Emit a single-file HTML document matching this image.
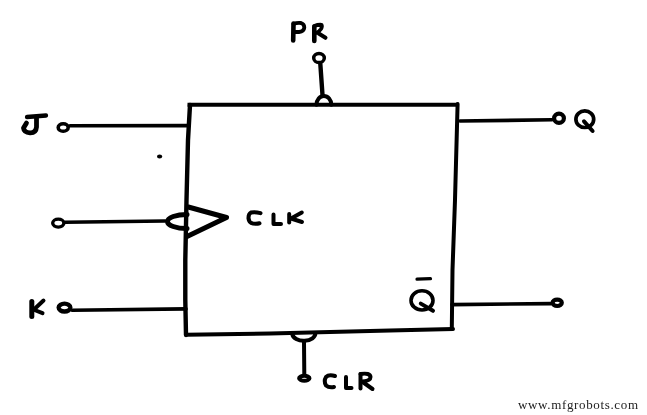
<!DOCTYPE html>
<html><head><meta charset="utf-8">
<style>
html,body{margin:0;padding:0;background:#fff;width:647px;height:415px;overflow:hidden}
svg{position:absolute;left:0;top:0}
.wm{position:absolute;left:518px;top:397px;font-family:"Liberation Serif",serif;font-size:13px;letter-spacing:0.65px;color:#222;white-space:nowrap;will-change:transform}
</style></head><body>
<svg width="647" height="415" viewBox="0 0 647 415" fill="none" stroke="#000" stroke-linecap="round" stroke-linejoin="round">
<!-- box -->
<g stroke-width="4">
<path d="M187.5 104.7 L459 104.7" stroke-linecap="butt"/>
<path d="M190 105 L188 140 L186.5 200 L185.3 260 L185.3 300 L186 335" stroke-width="4.4"/>
<path d="M186 334.8 L270 333.5 L390 330.6 L453 329"/>
<path d="M457.6 104 L455 200 L452.5 270 L451.8 329"/>
</g>
<!-- inputs -->
<g stroke-width="3.6">
<path d="M70 125.8 L188 125.6"/>
<ellipse cx="63.2" cy="127.5" rx="5" ry="3.8"/>
<path d="M65 222.2 L165 221"/>
<ellipse cx="58.3" cy="223.1" rx="5.6" ry="4.0" stroke-width="3.4"/>
<path d="M72 310.2 L186 308.9"/>
<ellipse cx="64.5" cy="307.6" rx="5.9" ry="3.9" stroke-width="4.3"/>
<path d="M460 121 L552 119.8"/>
<ellipse cx="559" cy="118.2" rx="4.9" ry="4.6" stroke-width="4.2"/>
<path d="M452 304.6 L551 303.6"/>
<ellipse cx="557.2" cy="302.8" rx="4.6" ry="3.2" stroke-width="4.2"/>
</g>
<!-- PR -->
<g stroke-width="4">
<ellipse cx="319" cy="58" rx="5.3" ry="4.6" stroke-width="3.5"/>
<path d="M320.3 63.7 L322.5 94.8" stroke-width="4.4"/>
<path d="M316.5 104.7 A7.4 8.8 0 0 1 331.3 104.7"/>
<!-- CLR -->
<path d="M292.3 334 A11.5 7.3 0 0 0 315.3 333"/>
<path d="M304 342 L304.3 374"/>
<ellipse cx="304.3" cy="378.3" rx="5.2" ry="2.5"/>
<!-- clock -->
<path d="M188.3 207 L226.5 217.5 L187 236.5" stroke-width="5"/>
<path d="M187 214.4 A19.5 7.1 0 0 0 187 228.6" stroke-width="5"/>
</g>
<!-- letters -->
<g stroke-width="4">
<!-- J -->
<path d="M27 117 L46 115.5" stroke-width="4.3"/>
<path d="M36.5 118 L36.5 127 Q36 133 30 132.8 Q24 132.5 23.5 128 L26.5 123" stroke-width="4.8"/>
<!-- K -->
<path d="M31.8 301.5 L31.8 316.5" stroke-width="5"/>
<path d="M43.5 300.5 L34.5 309" stroke-width="4"/>
<path d="M34.5 310 L42.5 313.2" stroke-width="4"/>
<!-- PR -->
<path d="M293.2 40.5 L293.5 23.5" stroke-width="4.6"/>
<path d="M293.5 24 Q297 22.5 301 23 Q304.3 24 304.3 27.5 Q304 31.5 299 32 L295 32" stroke-width="3.8"/>
<path d="M314.3 40.9 L314.3 26.6" stroke-width="4.6"/>
<path d="M314.3 26 Q318 24.5 321.5 24.8 Q322.5 26.5 321 29 Q319 32 316 33" stroke-width="3.8"/>
<path d="M318.7 33.5 L325.5 37.8" stroke-width="4"/>
<!-- Q -->
<ellipse cx="584.8" cy="119.2" rx="8.9" ry="8.3" stroke-width="3.7"/>
<path d="M584 121.3 L592.6 131" stroke-width="4"/>
<!-- CLK -->
<path d="M260.5 213.2 Q255 211.5 251 212.5 Q248.3 214 248.5 218.5 Q249 223 253 223.6 Q257 224 259.5 223.3" stroke-width="4"/>
<path d="M273.5 214.5 L273.5 224 L281 224"/>
<path d="M289.2 214 L289.2 222.5"/>
<path d="M301.8 212.5 L291 218.5 L302 222"/>
<!-- CLR -->
<path d="M335 376 Q329 374 326 377 Q323.5 381 326 385.5 Q329 388 334 387"/>
<path d="M346 377 L346 388 L351.5 388"/>
<path d="M360.5 374 L360.5 388.5"/>
<path d="M360.5 374 Q370 372.5 370.5 377 Q370.5 381 362 381.5 L372.5 389"/>
<!-- Qbar -->
<ellipse cx="422" cy="300.4" rx="11" ry="9.6" stroke-width="3.6"/>
<path d="M420.8 303.6 L433 310.8" stroke-width="4"/>
<path d="M417 279.2 L430.5 278.7" stroke-width="3.2"/>
</g>
<ellipse cx="159.6" cy="156.5" rx="2.6" ry="2.1" fill="#000" stroke="none"/>
</svg>
<div class="wm">www.mfgrobots.com</div>
</body></html>
